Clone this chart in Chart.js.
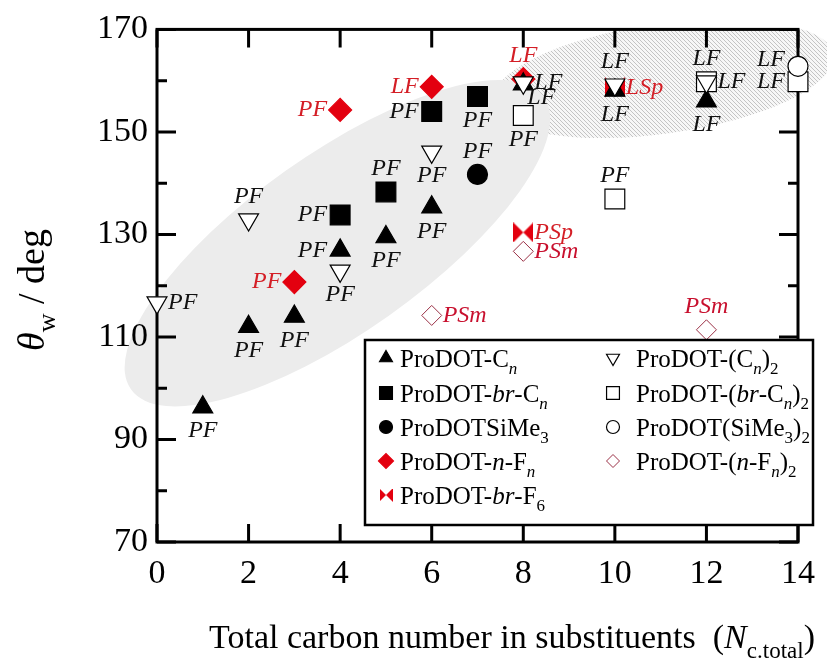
<!DOCTYPE html>
<html>
<head>
<meta charset="utf-8">
<script src="https://cdn.jsdelivr.net/npm/chart.js@4.4.1/dist/chart.umd.min.js"></script>
<style>
	html, body { margin: 0; padding: 0; background: #fff; }
	#wrap { width: 827px; height: 660px; }
</style>
</head>
<body>
<div id="wrap"><canvas id="chartWetting" width="827" height="660"></canvas></div>
<script>
var SERIF = '"Liberation Serif", "Times New Roman", serif';
var RED = '#e3000f';

// ProDOT-Cn
var cnX     = [1, 2, 3, 4, 5, 6, 8, 10, 12];
var cnY     = [96.3, 112.0, 114.0, 126.9, 129.5, 135.3, 159.3, 158.1, 156.0];
var cnTags  = ['PF', 'PF', 'PF', 'PF', 'PF', 'PF', 'LF', 'LF', 'LF'];
var cnPlace = ['below', 'below', 'below', 'left', 'below', 'below', 'lowRight', 'below', 'below'];

// ProDOT-br-Cn
var brCnX     = [4, 5, 6, 7];
var brCnY     = [133.8, 138.3, 154.0, 156.9];
var brCnTags  = ['PF', 'PF', 'PF', 'PF'];
var brCnPlace = ['left', 'above', 'left', 'below'];

// ProDOTSiMe3
var siX     = [7];
var siY     = [141.7];
var siTags  = ['PF'];
var siPlace = ['above'];

// ProDOT-n-Fn
var nfX     = [3, 4, 6, 8];
var nfY     = [120.7, 154.3, 158.8, 160.3];
var nfTags  = ['PF', 'PF', 'LF', 'LF'];
var nfPlace = ['left', 'left', 'left', 'above'];

// ProDOT-br-F6
var brfX     = [8, 10];
var brfY     = [130.4, 158.7];
var brfTags  = ['PSp', 'LSp'];
var brfPlace = ['right', 'right'];

// ProDOT-(Cn)2
var cn2X     = [0, 2, 4, 6, 8, 10, 12];
var cn2Y     = [116.7, 132.9, 122.9, 146.1, 159.6, 159.2, 159.8];
var cn2Tags  = ['PF', 'PF', 'PF', 'PF', 'LF', 'LF', 'LF'];
var cn2Place = ['right', 'above', 'below', 'below', 'right', 'above', 'above'];

// ProDOT-(br-Cn)2
var brCn2X     = [8, 10, 12, 14];
var brCn2Y     = [153.2, 136.9, 159.8, 159.8];
var brCn2Tags  = ['PF', 'PF', 'LF', 'LF'];
var brCn2Place = ['below', 'above', 'right', 'left'];

// ProDOT(SiMe3)2
var si2X     = [14];
var si2Y     = [162.8];
var si2Tags  = ['LF'];
var si2Place = ['upLeft'];

// ProDOT-(n-Fn)2
var nf2X     = [6, 8, 12];
var nf2Y     = [114.2, 126.7, 111.4];
var nf2Tags  = ['PSm', 'PSm', 'PSm'];
var nf2Place = ['right', 'right', 'above'];

// legend names, [text, style]  i = italic, s = subscript
var legendNames = [
	[['ProDOT-C', ''], ['n', 'is']],
	[['ProDOT-', ''], ['br', 'i'], ['-C', ''], ['n', 'is']],
	[['ProDOTSiMe', ''], ['3', 's']],
	[['ProDOT-', ''], ['n', 'i'], ['-F', ''], ['n', 'is']],
	[['ProDOT-', ''], ['br', 'i'], ['-F', ''], ['6', 's']],
	[['ProDOT-(C', ''], ['n', 'is'], [')', ''], ['2', 's']],
	[['ProDOT-(', ''], ['br', 'i'], ['-C', ''], ['n', 'is'], [')', ''], ['2', 's']],
	[['ProDOT(SiMe', ''], ['3', 's'], [')', ''], ['2', 's']],
	[['ProDOT-(', ''], ['n', 'i'], ['-F', ''], ['n', 'is'], [')', ''], ['2', 's']]
];

var xTitle = [['Total carbon number in substituents  (', ''], ['N', 'i'], ['c.total', 's'], [')', '']];
var yTitle = [['\u03b8', 'i'], ['w', 's'], [' / deg', '']];

var PLACE = {
	above:    { dx: 0,   dy: -23, align: 'center' },
	below:    { dx: 0,   dy: 24,  align: 'center' },
	left:     { dx: -13, dy: 0,   align: 'right' },
	right:    { dx: 11,  dy: 0,   align: 'left' },
	lowRight: { dx: 4,   dy: 13,  align: 'left' },
	upLeft:   { dx: -13, dy: -7,  align: 'right' }
};

function pts(xs, ys) {
	return xs.map(function(x, i) { return { x: x, y: ys[i] }; });
}

function makeBowtie(w, h, color) {
	var c = document.createElement('canvas');
	c.width = w; c.height = h;
	var g = c.getContext('2d');
	g.fillStyle = color;
	g.beginPath(); g.moveTo(0, 0); g.lineTo(w / 2, h / 2); g.lineTo(0, h); g.closePath(); g.fill();
	g.beginPath(); g.moveTo(w, 0); g.lineTo(w / 2, h / 2); g.lineTo(w, h); g.closePath(); g.fill();
	return c;
}

function hatchPattern(ctx) {
	var c = document.createElement('canvas');
	c.width = 4; c.height = 4;
	var g = c.getContext('2d');
	g.fillStyle = '#f7f7f7'; g.fillRect(0, 0, 4, 4);
	g.strokeStyle = '#c4c4c4'; g.lineWidth = 1;
	g.beginPath();
	g.moveTo(-1, -1); g.lineTo(5, 5);
	g.moveTo(-1, 3); g.lineTo(1, 5);
	g.moveTo(3, -1); g.lineTo(5, 1);
	g.stroke();
	return ctx.createPattern(c, 'repeat');
}

function fontFor(st, size) {
	var sz = st.indexOf('s') >= 0 ? Math.round(size * 0.68) : size;
	return (st.indexOf('i') >= 0 ? 'italic ' : '') + sz + 'px ' + SERIF;
}

function drawRich(ctx, segs, x, y, size, align) {
	var w = 0;
	segs.forEach(function(s) { ctx.font = fontFor(s[1], size); w += ctx.measureText(s[0]).width; });
	var cx = align === 'center' ? x - w / 2 : x;
	ctx.textAlign = 'left';
	ctx.textBaseline = 'alphabetic';
	segs.forEach(function(s) {
		ctx.font = fontFor(s[1], size);
		var dy = s[1].indexOf('s') >= 0 ? size * 0.28 : 0;
		ctx.fillText(s[0], cx, y + dy);
		cx += ctx.measureText(s[0]).width;
	});
}

function drawMarker(ctx, ds, x, y, r) {
	ctx.save();
	if (ds.pointStyle instanceof HTMLCanvasElement) {
		ctx.drawImage(ds.pointStyle, x - r, y - r, 2 * r, 2 * r);
		ctx.restore();
		return;
	}
	ctx.fillStyle = ds.backgroundColor;
	ctx.strokeStyle = ds.borderColor;
	ctx.lineWidth = ds.borderWidth;
	var rot = (ds.rotation || 0) * Math.PI / 180;
	ctx.beginPath();
	if (ds.pointStyle === 'triangle') {
		for (var k = 0; k < 3; k++) {
			var a = rot + k * 2 * Math.PI / 3;
			if (k === 0) ctx.moveTo(x + Math.sin(a) * r, y - Math.cos(a) * r);
			else ctx.lineTo(x + Math.sin(a) * r, y - Math.cos(a) * r);
		}
	} else if (ds.pointStyle === 'rect') {
		var h = r * Math.SQRT1_2;
		ctx.rect(x - h, y - h, 2 * h, 2 * h);
	} else if (ds.pointStyle === 'rectRot') {
		ctx.moveTo(x - r, y); ctx.lineTo(x, y - r); ctx.lineTo(x + r, y); ctx.lineTo(x, y + r);
	} else {
		ctx.arc(x, y, r, 0, 2 * Math.PI);
	}
	ctx.closePath();
	ctx.fill();
	ctx.stroke();
	ctx.restore();
}

var zonePlugin = {
	id: 'zones',
	beforeDraw: function(chart, args, opts) {
		var ctx = chart.ctx, xs = chart.scales.x, ys = chart.scales.y, area = chart.chartArea;
		ctx.save();
		ctx.fillStyle = '#fff';
		ctx.fillRect(0, 0, chart.width, chart.height);
		opts.list.forEach(function(z) {
			ctx.save();
			ctx.beginPath();
			ctx.rect(0, area.top, chart.width, chart.height - area.top);
			ctx.clip();
			ctx.beginPath();
			ctx.ellipse(xs.getPixelForValue(z.cx), ys.getPixelForValue(z.cy), z.rx, z.ry, z.angle * Math.PI / 180, 0, 2 * Math.PI);
			ctx.fillStyle = z.hatch ? hatchPattern(ctx) : z.color;
			ctx.fill();
			ctx.restore();
		});
		ctx.restore();
	}
};

var framePlugin = {
	id: 'frame',
	beforeDatasetsDraw: function(chart) {
		var ctx = chart.ctx, a = chart.chartArea, xs = chart.scales.x, ys = chart.scales.y;
		ctx.save();
		ctx.strokeStyle = '#000';
		ctx.lineWidth = 3;
		ctx.beginPath();
		xs.ticks.forEach(function(t) {
			var px = xs.getPixelForValue(t.value);
			ctx.moveTo(px, a.bottom); ctx.lineTo(px, a.bottom - 18);
			ctx.moveTo(px, a.top); ctx.lineTo(px, a.top + 18);
		});
		ys.ticks.forEach(function(t) {
			var py = ys.getPixelForValue(t.value);
			var len = (t.value - 70) % 20 === 0 ? 19 : 10;
			ctx.moveTo(a.left, py); ctx.lineTo(a.left + len, py);
			ctx.moveTo(a.right, py); ctx.lineTo(a.right - len, py);
		});
		ctx.stroke();
		ctx.strokeRect(a.left, a.top, a.right - a.left, a.bottom - a.top);
		ctx.restore();
	}
};

var tagPlugin = {
	id: 'tags',
	afterDatasetsDraw: function(chart) {
		var ctx = chart.ctx;
		chart.data.datasets.forEach(function(ds, di) {
			var meta = chart.getDatasetMeta(di);
			ctx.save();
			ctx.font = 'italic 24px ' + SERIF;
			ctx.fillStyle = ds.tagColor;
			ctx.textBaseline = 'middle';
			ds.data.forEach(function(p, i) {
				var el = meta.data[i];
				var off = PLACE[ds.place[i]];
				ctx.textAlign = off.align;
				ctx.fillText(ds.tags[i], el.x + off.dx, el.y + off.dy);
			});
			ctx.restore();
		});
	}
};

var legendPlugin = {
	id: 'richLegend',
	afterDraw: function(chart) {
		var ctx = chart.ctx;
		var box = { left: 365, top: 340, right: 813, bottom: 525 };
		var colMarker = [386, 613], colText = [400, 636];
		var rowY = [358, 393, 427, 461, 495];
		ctx.save();
		ctx.fillStyle = '#fff';
		ctx.fillRect(box.left, box.top, box.right - box.left, box.bottom - box.top);
		ctx.strokeStyle = '#000';
		ctx.lineWidth = 2.5;
		ctx.strokeRect(box.left, box.top, box.right - box.left, box.bottom - box.top);
		chart.data.datasets.forEach(function(ds, i) {
			var col = i < 5 ? 0 : 1;
			var row = i < 5 ? i : i - 5;
			var y = rowY[row];
			var r = ds.pointStyle instanceof HTMLCanvasElement ? 6.5 : ds.pointRadius * 0.65;
			drawMarker(ctx, ds, colMarker[col], y, r);
			ctx.fillStyle = '#000';
			drawRich(ctx, legendNames[i], colText[col], y + 9, 25, 'left');
		});

		// axis titles
		ctx.fillStyle = '#000';
		drawRich(ctx, xTitle, 512, 648, 34, 'center');
		ctx.translate(44, 290);
		ctx.rotate(-Math.PI / 2);
		drawRich(ctx, yTitle, 0, 0, 38, 'center');
		ctx.restore();
	}
};

function series(label, xs, ys, tags, place, style) {
	var ds = {
		label: label,
		data: pts(xs, ys),
		tags: tags,
		place: place,
		clip: false,
		order: 3,
		borderWidth: 1.2,
		tagColor: '#111'
	};
	Object.keys(style).forEach(function(k) { ds[k] = style[k]; });
	return ds;
}

function Init() {
	var datasets = [
		series('ProDOT-Cn', cnX, cnY, cnTags, cnPlace,
			{ pointStyle: 'triangle', pointRadius: 11.5, backgroundColor: '#000', borderColor: '#000' }),
		series('ProDOT-br-Cn', brCnX, brCnY, brCnTags, brCnPlace,
			{ pointStyle: 'rect', pointRadius: 14, backgroundColor: '#000', borderColor: '#000' }),
		series('ProDOTSiMe3', siX, siY, siTags, siPlace,
			{ pointStyle: 'circle', pointRadius: 10, backgroundColor: '#000', borderColor: '#000' }),
		series('ProDOT-n-Fn', nfX, nfY, nfTags, nfPlace,
			{ pointStyle: 'rectRot', pointRadius: 11.5, backgroundColor: RED, borderColor: RED, tagColor: '#d41e26' }),
		series('ProDOT-br-F6', brfX, brfY, brfTags, brfPlace,
			{ pointStyle: makeBowtie(20, 20, RED), pointRadius: 10, backgroundColor: RED, borderColor: RED, tagColor: '#d41e26' }),
		series('ProDOT-(Cn)2', cn2X, cn2Y, cn2Tags, cn2Place,
			{ pointStyle: 'triangle', rotation: 180, pointRadius: 11.5, backgroundColor: '#fff', borderColor: '#000', order: 0 }),
		series('ProDOT-(br-Cn)2', brCn2X, brCn2Y, brCn2Tags, brCn2Place,
			{ pointStyle: 'rect', pointRadius: 14, backgroundColor: '#fff', borderColor: '#000', order: 2 }),
		series('ProDOT(SiMe3)2', si2X, si2Y, si2Tags, si2Place,
			{ pointStyle: 'circle', pointRadius: 10, backgroundColor: '#fff', borderColor: '#000', order: 1 }),
		series('ProDOT-(n-Fn)2', nf2X, nf2Y, nf2Tags, nf2Place,
			{ pointStyle: 'rectRot', pointRadius: 10, backgroundColor: '#fff', borderColor: '#9b3046', borderWidth: 1, tagColor: '#c8102e' })
	];

	var tickFont = { family: SERIF, size: 34 };

	new Chart(document.getElementById('chartWetting').getContext('2d'), {
		type: 'scatter',
		data: { datasets: datasets },
		plugins: [zonePlugin, framePlugin, tagPlugin, legendPlugin],
		options: {
			responsive: false,
			animation: false,
			devicePixelRatio: 1,
			layout: { padding: { top: 25, right: 20, left: 0, bottom: 0 } },
			plugins: {
				legend: { display: false },
				tooltip: { enabled: false },
				zones: {
					list: [
						{ cx: 11.05, cy: 160.4, rx: 172, ry: 55, angle: -8, hatch: true },
						{ cx: 3.94, cy: 128.3, rx: 253, ry: 89, angle: -35.3, color: '#ececec' }
					]
				}
			},
			scales: {
				x: {
					type: 'linear', min: 0, max: 14,
					ticks: { stepSize: 2, font: tickFont, color: '#000', padding: 12, maxRotation: 0, autoSkip: false },
					grid: { display: false, drawTicks: false },
					border: { display: false },
					afterFit: function(s) { s.height = 118; }
				},
				y: {
					type: 'linear', min: 70, max: 170,
					ticks: {
						stepSize: 10, font: tickFont, color: '#000', padding: 9, autoSkip: false,
						callback: function(v) { return (v - 70) % 20 === 0 ? v : ''; }
					},
					grid: { display: false, drawTicks: false },
					border: { display: false },
					afterFit: function(s) { s.width = 157; }
				}
			}
		}
	});
}

Init();
</script>
</body>
</html>
